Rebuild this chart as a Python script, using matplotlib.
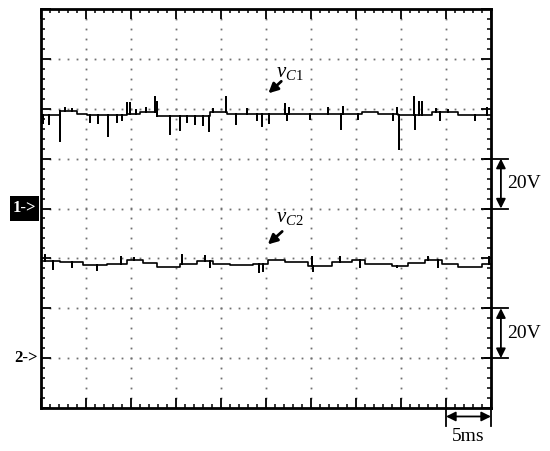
import numpy as np
import matplotlib
matplotlib.use("Agg")
import matplotlib.pyplot as plt
from matplotlib.patches import Rectangle
from matplotlib.ticker import MultipleLocator

plt.rcParams['mathtext.fontset'] = 'custom'
plt.rcParams['mathtext.rm'] = 'Liberation Serif'
plt.rcParams['mathtext.it'] = 'Liberation Serif:italic'

# ---- data (time in ms, voltage in V) ----
# vC1: baseline step edges / levels and spikes
t1_edges = [0, 2.1, 4.0, 5.1, 9.6, 11.0, 12.9, 18.8, 20.7, 26.8, 35.7, 37.4, 39.7, 43.4, 46.3, 50]
v1_levels = [37.6, 38.9, 38.0, 37.6, 38.0, 38.5, 37.2, 38.7, 37.9, 38.0, 38.8, 38.0, 37.5, 38.5, 37.6]
t1_spikes = [0.2, 0.9, 2.1, 2.7, 3.4, 5.4, 6.3, 7.4, 8.4, 9.0, 9.6, 9.9, 10.6, 11.7, 12.7, 12.9,
             14.3, 15.4, 16.2, 17.1, 18.0, 18.7, 19.1, 20.5, 21.7, 22.9, 24.0, 24.6, 25.3, 27.1,
             27.3, 27.6, 29.9, 31.9, 33.3, 33.6, 35.2, 39.1, 39.6, 39.8, 41.4, 41.6, 42.0, 42.3,
             43.9, 44.3, 45.2, 48.2, 49.6]
v1_spikes = [34.4, 34.0, 26.9, 40.4, 40.0, 34.8, 34.4, 29.2, 34.8, 35.6, 42.5, 42.4, 39.6, 40.4, 44.7, 42.8,
             30.0, 31.6, 34.8, 34.0, 33.6, 30.9, 40.0, 44.9, 34.0, 40.0, 35.6, 33.2, 34.4, 42.0,
             35.6, 40.4, 36.0, 40.4, 32.0, 40.8, 36.0, 35.6, 40.4, 24.0, 44.8, 32.0, 42.8, 42.8,
             40.0, 35.6, 39.6, 35.6, 40.4]

# vC2
t2_edges = [0, 2.1, 4.7, 7.3, 9.6, 11.3, 12.9, 15.4, 17.3, 19.1, 21.0, 23.6, 25.2, 27.1, 29.7,
            32.3, 34.6, 36.0, 39.0, 40.8, 42.7, 44.6, 46.3, 49.0, 50]
v2_levels = [38.9, 38.7, 37.3, 37.9, 39.2, 38.3, 36.7, 37.6, 38.9, 37.9, 37.3, 37.6, 39.2, 38.5,
             36.8, 38.7, 39.3, 37.6, 36.8, 38.3, 39.3, 37.9, 36.5, 37.6]
t2_spikes = [0.4, 1.3, 3.4, 6.2, 8.9, 10.3, 15.7, 18.2, 18.8, 24.2, 24.7, 30.1, 30.2, 33.2,
             35.4, 39.6, 43.0, 44.1, 49.8]
v2_spikes = [41.2, 35.6, 36.4, 35.2, 40.4, 40.0, 41.2, 40.9, 36.4, 34.4, 34.8, 40.4, 34.9, 40.4,
             36.4, 36.4, 40.4, 36.4, 40.4]

VOLTS_PER_DIV = 20.0
MS_PER_DIV = 5.0
CH1_REF = 0.0   # divisions
CH2_REF = -3.0


def build(edges, levels, st, sv):
    xs, ys = [], []
    for i, lev in enumerate(levels):
        a, b = edges[i], edges[i + 1]
        xs.append(a); ys.append(lev)
        for t, v in sorted(zip(st, sv)):
            if a <= t < b:
                xs += [t, t, t]
                ys += [lev, v, lev]
        xs.append(b); ys.append(lev)
    return np.array(xs), np.array(ys)


fig = plt.figure(figsize=(5.5, 4.51), dpi=100)
ax = fig.add_axes([41 / 550, (451 - 408) / 451, 450 / 550, 399 / 451])
ax.set_xlim(0, 50)
ax.set_ylim(-4, 4)

# dotted graticule
for gx in np.arange(5, 50, 5):
    yy = np.arange(-4, 4.001, 0.2)
    ax.plot(np.full_like(yy, gx), yy, ls='none', marker='s', ms=1.3, mfc='#707070', mec='none', zorder=1)
for gy in np.arange(-3, 4, 1):
    xx = np.arange(0, 50.001, 1)
    ax.plot(xx, np.full_like(xx, gy), ls='none', marker='s', ms=1.3, mfc='#707070', mec='none', zorder=1)

x1, y1 = build(t1_edges, v1_levels, t1_spikes, v1_spikes)
x2, y2 = build(t2_edges, v2_levels, t2_spikes, v2_spikes)
ax.plot(x1, CH1_REF + y1 / VOLTS_PER_DIV, color='black', lw=1.2, zorder=3)
ax.plot(x2, CH2_REF + y2 / VOLTS_PER_DIV, color='black', lw=1.2, zorder=3)

# ticks
ax.xaxis.set_major_locator(MultipleLocator(5))
ax.xaxis.set_minor_locator(MultipleLocator(1))
ax.yaxis.set_major_locator(MultipleLocator(1))
ax.yaxis.set_minor_locator(MultipleLocator(0.2))
ax.tick_params(which='both', direction='in', top=True, right=True, bottom=True, left=True,
               labelbottom=False, labelleft=False, color='black')
ax.tick_params(which='major', length=7, width=1.3)
ax.tick_params(which='minor', length=3.2, width=1.1)
for s in ax.spines.values():
    s.set_linewidth(2.0)

serif = 'Liberation Serif'

# trace labels
ax.text(26.1, 2.64, r'$v_{C\mathrm{1}}$', fontsize=15, ha='left', va='baseline')
ax.annotate('', xy=(25.26, 2.31), xytext=(26.7, 2.55),
            arrowprops=dict(arrowstyle='-|>', lw=2, color='black', mutation_scale=14,
                            shrinkA=0, shrinkB=0))
ax.text(26.1, -0.28, r'$v_{C\mathrm{2}}$', fontsize=15, ha='left', va='baseline')
ax.annotate('', xy=(25.2, -0.72), xytext=(26.8, -0.46),
            arrowprops=dict(arrowstyle='-|>', lw=2, color='black', mutation_scale=14,
                            shrinkA=0, shrinkB=0))

# 20V scale bars
for y0, y1_ in [(0, 1), (-3, -2)]:
    for yy in (y0, y1_):
        ax.plot([49.3, 51.9], [yy, yy], color='black', lw=1.3, clip_on=False)
    ax.annotate('', xy=(51.1, y1_), xytext=(51.1, y0), annotation_clip=False,
                arrowprops=dict(arrowstyle='<|-|>', lw=1.3, color='black', mutation_scale=14,
                                shrinkA=0, shrinkB=0))
    ax.text(51.75, (y0 + y1_) / 2, '20V', fontsize=14, family=serif, ha='left', va='center',
            clip_on=False)

# 5ms scale bar
for xx in (45, 50):
    ax.plot([xx, xx], [-4, -4.36], color='black', lw=1.3, clip_on=False)
ax.annotate('', xy=(50, -4.17), xytext=(45, -4.17), annotation_clip=False,
            arrowprops=dict(arrowstyle='<|-|>', lw=1.3, color='black', mutation_scale=14,
                            shrinkA=0, shrinkB=0))
ax.text(47.5, -4.57, '5ms', fontsize=14, family=serif, ha='center', va='center', clip_on=False)

# channel markers
ax.add_patch(Rectangle((-3.44, -0.26), 3.22, 0.52, facecolor='black', edgecolor='none',
                       clip_on=False, transform=ax.transData))
ax.text(-1.83, 0.0, '1->', fontsize=12, family=serif, fontweight='bold', color='white',
        ha='center', va='center', clip_on=False)
ax.text(-1.67, -3.0, '2->', fontsize=12, family=serif, fontweight='bold', color='black',
        ha='center', va='center', clip_on=False)

fig.savefig('out.png', dpi=100)
